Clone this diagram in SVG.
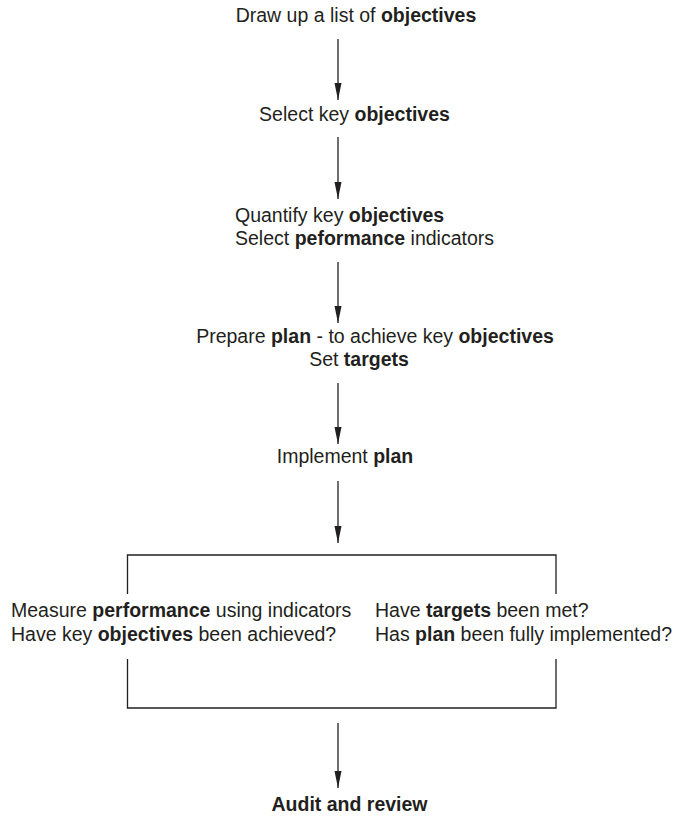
<svg xmlns="http://www.w3.org/2000/svg" width="673" height="820" viewBox="0 0 673 820">
<style>
text{font-family:"Liberation Sans",Arial,sans-serif;font-size:19.5px;fill:#231f20}
.b{font-weight:bold}
.c{text-anchor:middle}
.ln{stroke:#231f20;stroke-width:1.3;fill:none}
</style>
<defs>
<marker id="ah" markerWidth="17" markerHeight="8" refX="17" refY="4" orient="auto" markerUnits="userSpaceOnUse" viewBox="0 0 17 8">
<path d="M0,0.5 L17,4 L0,7.5 Z" fill="#231f20"/>
</marker>
</defs>
<g id="connectors">
<line class="ln" x1="338" y1="39" x2="338" y2="100" marker-end="url(#ah)"/>
<line class="ln" x1="338" y1="137" x2="338" y2="199" marker-end="url(#ah)"/>
<line class="ln" x1="338" y1="262" x2="338" y2="323" marker-end="url(#ah)"/>
<line class="ln" x1="338" y1="383" x2="338" y2="444" marker-end="url(#ah)"/>
<line class="ln" x1="338" y1="481" x2="338" y2="543" marker-end="url(#ah)"/>
<line class="ln" x1="338" y1="723" x2="338" y2="788" marker-end="url(#ah)"/>
<path class="ln" d="M127.5,594 V555 H556 V594"/>
<path class="ln" d="M127.5,659 V708 H556 V659"/>
</g>
<g id="n1"><text class="c" x="356" y="22">Draw up a list of <tspan class="b">objectives</tspan></text></g>
<g id="n2"><text class="c" x="354.5" y="121">Select key <tspan class="b">objectives</tspan></text></g>
<g id="n3"><text x="235" y="222">Quantify key <tspan class="b">objectives</tspan></text><text x="235" y="245">Select <tspan class="b">peformance</tspan> indicators</text></g>
<g id="n4"><text class="c" x="375" y="343">Prepare <tspan class="b">plan</tspan> - to achieve key <tspan class="b">objectives</tspan></text><text class="c" x="359" y="366">Set <tspan class="b">targets</tspan></text></g>
<g id="n5"><text class="c" x="345" y="463">Implement <tspan class="b">plan</tspan></text></g>
<g id="n6"><text x="11" y="617">Measure <tspan class="b">performance</tspan> using indicators</text><text x="11" y="641">Have key <tspan class="b">objectives</tspan> been achieved?</text></g>
<g id="n7"><text x="375" y="617">Have <tspan class="b">targets</tspan> been met?</text><text x="375" y="641">Has <tspan class="b">plan</tspan> been fully implemented?</text></g>
<g id="n8"><text class="c b" x="349.5" y="811">Audit and review</text></g>
</svg>
